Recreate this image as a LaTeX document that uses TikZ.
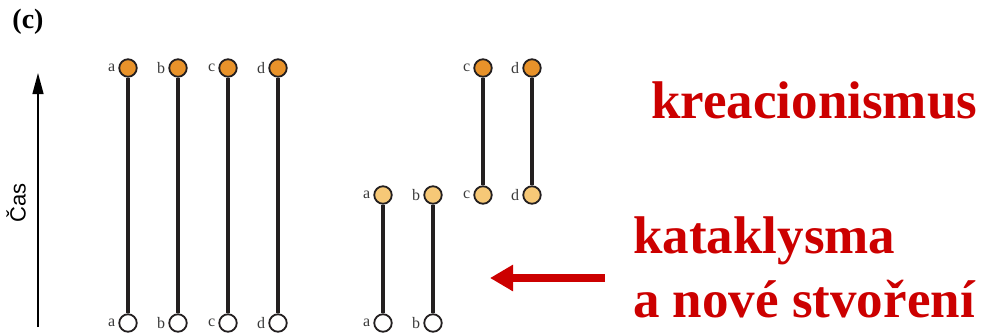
\documentclass[tikz,border=0pt]{standalone}
\usepackage{fontspec}
\setmainfont{Liberation Serif}
\newfontfamily\casfont{Liberation Sans}
\usepackage{tikz}
\usetikzlibrary{arrows.meta,positioning}

\definecolor{oldorange}{HTML}{E8922A}
\definecolor{neworange}{HTML}{F6C877}
\definecolor{linedark}{HTML}{231F20}
\definecolor{labelgray}{HTML}{3A3A3A}
\definecolor{titlered}{HTML}{CC0000}

\begin{document}
\begin{tikzpicture}[x=1pt,y=-1pt,
    taxon/.style={circle,draw=linedark,line width=1.8pt,minimum size=17.5pt,inner sep=0pt},
    lbl/.style={text=labelgray,font=\fontsize{16}{16}\selectfont,inner sep=3pt},
    lineage/.style={draw=linedark,line width=3.4pt},
    bigred/.style={text=titlered,font=\bfseries\fontsize{53}{60}\selectfont,inner sep=0pt}]
    \useasboundingbox (0,0) rectangle (982,335);

    % panel letter and time axis
    \node[font=\bfseries\fontsize{28}{28}\selectfont] (panel) at (28,22) {(c)};
    \coordinate (time0) at (38,327);
    \coordinate (time1) at (38,73);
    \draw[line width=1.4pt,-{Triangle[length=21pt,width=11pt]}] (time0) -- (time1);
    \node[rotate=90,font=\casfont\fontsize{22}{22}\selectfont] (cas) at (16,203) {Čas};

    % lineages without extinction
    \foreach \x/\t in {128/a,178/b,228/c,278/d}{
        \node[taxon,fill=oldorange,label={[lbl]left:\t}] (ltop-\t) at (\x,68) {};
        \node[taxon,fill=white,label={[lbl]left:\t}] (lbot-\t) at (\x,323) {};
        \draw[lineage] (ltop-\t) -- (lbot-\t);
    }

    % lineages after the catastrophe
    \foreach \x/\t in {383/a,433/b}{
        \node[taxon,fill=neworange,label={[lbl]left:\t}] (rmid-\t) at (\x,195) {};
        \node[taxon,fill=white,label={[lbl]left:\t}] (rbot-\t) at (\x,323) {};
        \draw[lineage] (rmid-\t) -- (rbot-\t);
    }
    \foreach \x/\t in {483/c,532/d}{
        \node[taxon,fill=oldorange,label={[lbl]left:\t}] (rtop-\t) at (\x,68) {};
        \node[taxon,fill=neworange,label={[lbl]left:\t}] (rmid-\t) at (\x,195) {};
        \draw[lineage] (rtop-\t) -- (rmid-\t);
    }

    % red captions
    \node[bigred,anchor=base west] (krea) at (651,118) {kreacionismus};
    \node[bigred,anchor=base west] (kata) at (633,253) {kataklysma};
    \node[bigred,anchor=base west] (stvo) at (633,317) {a nové stvoření};
    \coordinate (cata-from) at (605,278);
    \coordinate (cata-to) at (490,278);
    \draw[titlered,line width=7.5pt,-{Triangle[length=23pt,width=25pt]}] (cata-from) -- (cata-to);
\end{tikzpicture}
\end{document}
